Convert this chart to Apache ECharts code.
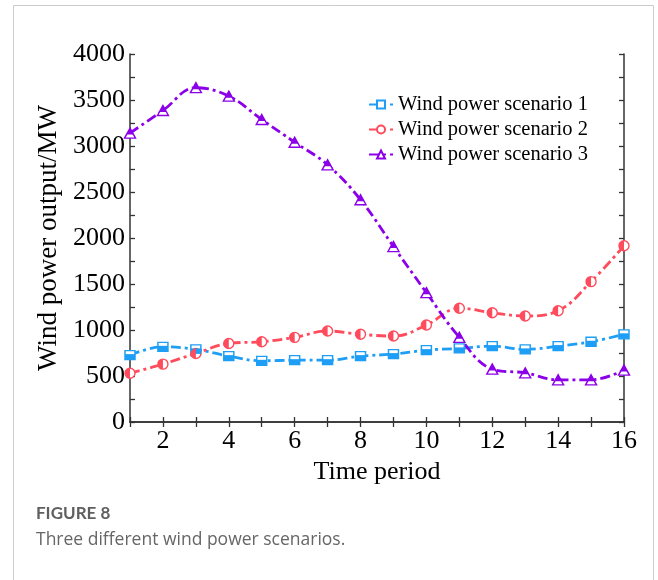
<!DOCTYPE html>
<html>
<head>
<meta charset="utf-8">
<script src="https://cdn.jsdelivr.net/npm/echarts@6/dist/echarts.min.js"></script>
<style>
  html, body { margin: 0; padding: 0; background: #fff; }
  #chart { width: 658px; height: 580px; }
</style>
</head>
<body>
<div id="chart"></div>
<script>
// time periods on the x axis
var periods = [1, 2, 3, 4, 5, 6, 7, 8, 9, 10, 11, 12, 13, 14, 15, 16];
// wind power output (MW)
var scenario1 = [727, 817, 789, 716, 665, 672, 672, 716, 738, 781, 800, 825, 789, 825, 872, 953];
var scenario2 = [530, 629, 745, 854, 872, 920, 989, 953, 934, 1054, 1236, 1188, 1152, 1210, 1526, 1915];
var scenario3 = [3140, 3386, 3634, 3542, 3288, 3041, 2795, 2416, 1907, 1406, 920, 575, 534, 458, 458, 564];
var seriesNames = ['Wind power scenario 1', 'Wind power scenario 2', 'Wind power scenario 3'];

var serif = 'Liberation Serif';
var colors = ['#1E9EF5', '#FF4B5C', '#8B00E8'];

function pairs(vals) {
    return periods.map(function (p, i) { return [p, vals[i]]; });
}

var echart = echarts.init(document.getElementById('chart'));

// hollow marker + line
function mainSeries(name, vals, color, symbol, size) {
    return {
        name: name,
        type: 'line',
        data: pairs(vals),
        smooth: 0.4,
        symbol: symbol,
        symbolSize: size,
        showAllSymbol: true,
        lineStyle: { color: color, width: 2.8, type: [10, 4, 3, 4] },
        itemStyle: { color: '#fff', borderColor: color, borderWidth: 1.4 },
        z: 2
    };
}
// filled part of the marker drawn on top
function halfSeries(vals, color, symbol, size, offset) {
    return {
        type: 'scatter',
        data: pairs(vals),
        symbol: symbol,
        symbolSize: size,
        symbolOffset: offset,
        itemStyle: { color: color, opacity: 1 },
        silent: true,
        z: 3
    };
}

var tickLine = { color: '#333', width: 1.3 };
var axisLine = { show: true, lineStyle: { color: '#333', width: 1.5 } };

option = {
    animation: false,
    backgroundColor: '#fff',
    grid: { left: 130, right: 34, top: 54, bottom: 158 },
    legend: {
        data: seriesNames,
        orient: 'vertical',
        left: 363,
        top: 89,
        itemWidth: 24,
        itemHeight: 10,
        itemGap: 4,
        textStyle: { fontFamily: serif, fontSize: 20.5, color: '#000' }
    },
    xAxis: [
        {
            type: 'value', min: 1, max: 16, interval: 1,
            name: 'Time period', nameLocation: 'middle', nameGap: 34,
            nameTextStyle: { fontFamily: serif, fontSize: 26, color: '#000' },
            axisLine: axisLine,
            axisTick: { show: true, inside: true, length: 5, lineStyle: tickLine },
            axisLabel: {
                fontFamily: serif, fontSize: 26, color: '#000', margin: 6,
                formatter: function (v) { return v % 2 === 0 ? String(v) : ''; }
            },
            splitLine: { show: false }
        },
        {
            type: 'value', min: 1, max: 16, interval: 1, position: 'top',
            axisLine: axisLine,
            axisTick: { show: true, inside: true, length: 5, lineStyle: tickLine },
            axisLabel: { show: false },
            splitLine: { show: false }
        }
    ],
    yAxis: [
        {
            type: 'value', min: 0, max: 4000, interval: 500,
            name: 'Wind power output/MW', nameLocation: 'middle', nameGap: 61,
            nameTextStyle: { fontFamily: serif, fontSize: 27, color: '#000' },
            axisLine: axisLine,
            axisTick: { show: true, inside: true, length: 5, lineStyle: tickLine },
            minorTick: { show: true, splitNumber: 2, length: 5, lineStyle: tickLine },
            axisLabel: {
                fontFamily: serif, fontSize: 26, color: '#000', margin: 5,
                formatter: function (v) { return String(v); }
            },
            splitLine: { show: false }
        },
        {
            type: 'value', min: 0, max: 4000, interval: 500, position: 'right',
            axisLine: axisLine,
            axisTick: { show: true, inside: true, length: 5, lineStyle: tickLine },
            minorTick: { show: true, splitNumber: 2, length: 5, lineStyle: tickLine },
            axisLabel: { show: false },
            splitLine: { show: false }
        }
    ],
    graphic: [
        {
            type: 'rect', silent: true,
            shape: { x: 13.5, y: 5.5, width: 640, height: 600 },
            style: { fill: 'none', stroke: '#cccccc', lineWidth: 1 }
        },
        {
            type: 'text', left: 36, top: 505,
            style: { text: 'FIGURE 8', font: 'bold 17px "Liberation Sans Narrow", Lato', fill: '#5f5f5f' }
        },
        {
            type: 'text', left: 36, top: 531,
            style: { text: 'Three different wind power scenarios.', font: '17.5px "Open Sans"', fill: '#666' }
        }
    ],
    series: [
        mainSeries(seriesNames[0], scenario1, colors[0], 'rect', [10, 9]),
        mainSeries(seriesNames[1], scenario2, colors[1], 'circle', 10),
        mainSeries(seriesNames[2], scenario3, colors[2], 'triangle', [11, 10]),
        halfSeries(scenario1, colors[0], 'rect', [10, 5.5], [0, 1.75]),
        halfSeries(scenario2, colors[1], 'path://M10,0 A10,10 0 0,0 10,20 Z', [5, 10], [-2.5, 0]),
        halfSeries(scenario3, colors[2], 'triangle', [7.2, 6.5], [0, -1.75])
    ]
};

echart.setOption(option);
</script>
</body>
</html>
